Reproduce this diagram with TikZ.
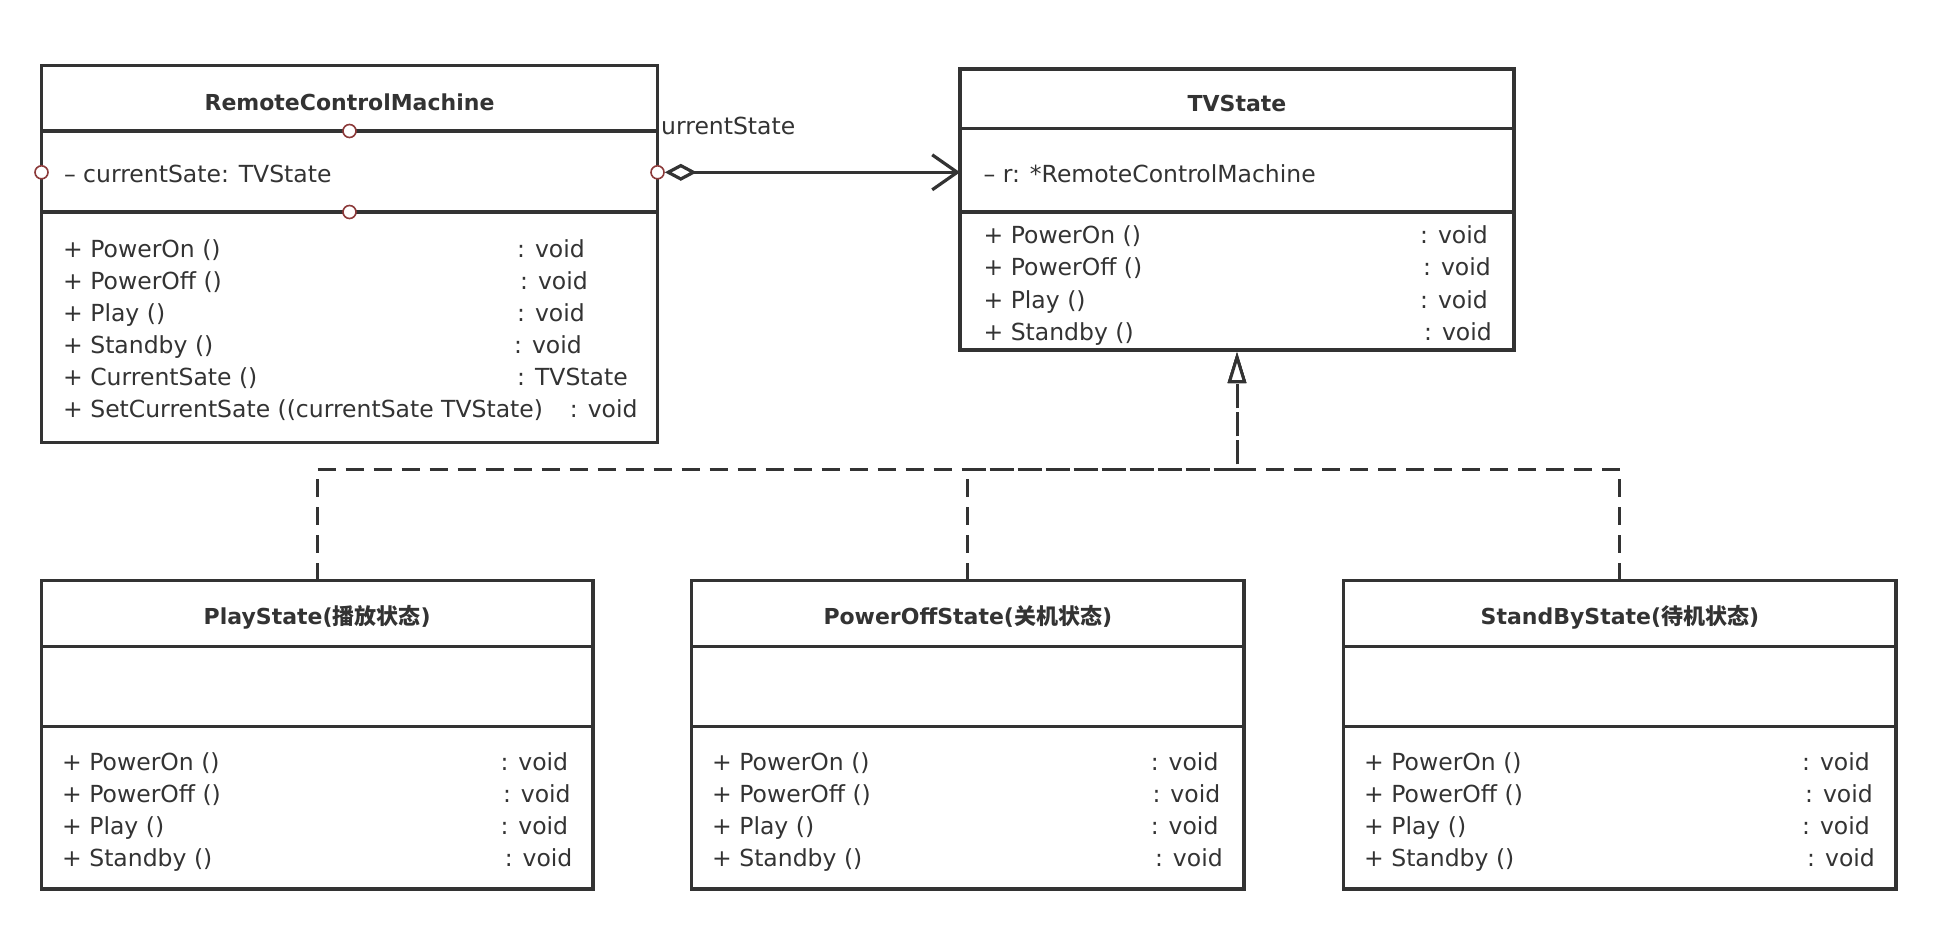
\documentclass[tikz,border=0pt]{standalone}
\usepackage{fontspec}
\setmainfont{DejaVu Sans}
\newfontfamily\cjk{Noto Sans CJK SC}
\usetikzlibrary{arrows.meta}
\definecolor{ink}{HTML}{333333}
\definecolor{pinred}{HTML}{8C3A3A}
\begin{document}
\begin{tikzpicture}[x=1pt,y=-1pt,
  umlbox/.style={draw=ink, line width=3.2pt, fill=white, rectangle, inner sep=0pt, outer sep=0pt, anchor=north west},
  divline/.style={draw=ink, line width=3.2pt},
  txt/.style={anchor=base west, inner sep=0pt, text=ink, font=\fontsize{23.5}{28}\selectfont},
  ttl/.style={anchor=base, inner sep=0pt, text=ink, font=\fontsize{22}{26}\selectfont\bfseries},
  pin/.style={circle, draw=pinred, fill=white, line width=1.6pt, minimum size=13pt, inner sep=0pt},
  aggr/.style={draw=ink, line width=3.2pt, {Diamond[open, length=32pt, width=17pt]}-{Straight Barb[length=25pt, width=35pt]}},
  realize/.style={draw=ink, line width=3pt, dash pattern=on 18pt off 10pt, -{Triangle[open, length=31pt, width=18pt, fill=white]}}
]
\fill[white] (0,0) rectangle (1942,938);
\useasboundingbox (0,0) rectangle (1942,938);

% ---------- boxes ----------
\node[umlbox, minimum width=616pt, minimum height=377pt] (rcm) at (41.5,65.7) {};
\node[umlbox, minimum width=554pt, minimum height=281pt] (tv) at (960,69) {};
\node[umlbox, minimum width=551.5pt, minimum height=308.3pt] (play) at (41.5,580.7) {};
\node[umlbox, minimum width=552.4pt, minimum height=308.3pt] (poff) at (691.6,580.7) {};
\node[umlbox, minimum width=552.2pt, minimum height=308.3pt] (sby) at (1343.8,580.7) {};

% ---------- dividers ----------
\draw[divline] (rcm.west |- 0,131) -- (rcm.east |- 0,131);
\draw[divline] (rcm.west |- 0,212) -- (rcm.east |- 0,212);
\draw[divline] (tv.west |- 0,128.3) -- (tv.east |- 0,128.3);
\draw[divline] (tv.west |- 0,212) -- (tv.east |- 0,212);
\foreach \b in {play,poff,sby}{
  \draw[divline] (\b.west |- 0,646.7) -- (\b.east |- 0,646.7);
  \draw[divline] (\b.west |- 0,726.7) -- (\b.east |- 0,726.7);
}

% ---------- titles ----------
\node[ttl] (rcm-t) at (349.5,110.3) {RemoteControlMachine};
\node[ttl] (tv-t) at (1237,111.5) {TVState};
\node[ttl] (play-t) at (317.2,624) {PlayState({\cjk 播放状态})};
\node[ttl] (poff-t) at (967.8,624) {PowerOffState({\cjk 关机状态})};
\node[ttl] (sby-t) at (1619.9,624) {StandByState({\cjk 待机状态})};

% ---------- attributes ----------
\node[txt] (rcm-a) at (63.8,182) {– currentSate: TVState};
\node[txt] (tv-a) at (983.4,182) {– r: *RemoteControlMachine};

% ---------- methods ----------
\foreach \t/\x/\r [count=\i] in {{+ PowerOn ()}/517/{: void}, {+ PowerOff ()}/520/{: void}, {+ Play ()}/517/{: void}, {+ Standby ()}/514/{: void}, {+ CurrentSate ()}/517/{: TVState}, {+ SetCurrentSate ((currentSate TVState)}/569.7/{: void}}{
  \node[txt] (rcm-m\i) at (63,{257+32*(\i-1)}) {\t};
  \node[txt] (rcm-r\i) at (\x,{257+32*(\i-1)}) {\r};
}
\foreach \t/\x [count=\i] in {{+ PowerOn ()}/1420, {+ PowerOff ()}/1423, {+ Play ()}/1420, {+ Standby ()}/1424}{
  \node[txt] (tv-m\i) at (983.4,{243.7+32.2*(\i-1)}) {\t};
  \node[txt] (tv-r\i) at (\x,{243.7+32.2*(\i-1)}) {: void};
}
\foreach \b/\xl/\xa/\xb/\xc/\xd in {play/62/500.3/502.8/500.3/504.6, poff/712/1150.6/1152.4/1150.6/1154.9, sby/1364/1802/1805/1802/1807}{
  \foreach \t/\x [count=\i] in {{+ PowerOn ()}/\xa, {+ PowerOff ()}/\xb, {+ Play ()}/\xc, {+ Standby ()}/\xd}{
    \node[txt] (\b-m\i) at (\xl,{770+32*(\i-1)}) {\t};
    \node[txt] (\b-r\i) at (\x,{770+32*(\i-1)}) {: void};
  }
}

% ---------- connection pins ----------
\node[pin] (pt) at (349.5,131) {};
\node[pin] (pb) at (349.5,212) {};
\node[pin] (pl) at (41.5,172.3) {};
\node[pin] (pr) at (657.5,172.3) {};

% ---------- aggregation ----------
\draw[aggr] (pr.east) -- (pr.east -| tv.west);
\node[txt, font=\fontsize{23.5}{28}\selectfont] (lbl) at (661,134.4) {urrentState};

% ---------- realization ----------
\coordinate (join) at (1237,469);
\draw[realize] (play.north) |- (join) -- ([yshift=-2pt]tv.south);
\draw[realize] (poff.north) |- (join) -- ([yshift=-2pt]tv.south);
\draw[realize] (sby.north) |- (join) -- ([yshift=-2pt]tv.south);
\end{tikzpicture}
\end{document}
